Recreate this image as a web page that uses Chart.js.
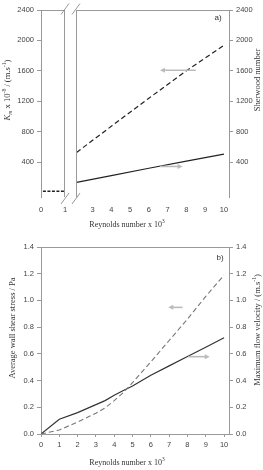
<!DOCTYPE html>
<html>
<head>
<meta charset="utf-8">
<script src="https://cdn.jsdelivr.net/npm/chart.js@4.4.1/dist/chart.umd.min.js"></script>
<style>
  html, body { margin: 0; padding: 0; background: #fff; }
  #wrap { position: relative; width: 263px; height: 470px; }
  canvas { position: absolute; }
</style>
</head>
<body>
<div id="wrap">
  <canvas id="topLeft" width="72" height="230" style="left:0;top:0;width:72px;height:230px"></canvas>
  <canvas id="topRight" width="263" height="230" style="left:0;top:0;width:263px;height:230px"></canvas>
  <canvas id="bottom" width="263" height="240" style="left:0;top:230px;width:263px;height:240px"></canvas>
</div>
<script>
// ---- data ----
// panel a), laminar part (Re x 10^3 below the break)
var lamRe = [0.08, 0.96];
var lamKm = [15, 15];
// panel a), turbulent part
var turbRe = [2.15, 4, 6, 8, 10];
var turbKm = [526, 870, 1240, 1600, 1935];
var turbSh = [133, 222, 318, 412, 505];
var topYTicks = [400, 800, 1200, 1600, 2000, 2400];
var topXTicksLeft = [0, 1];
var topXTicksRight = [3, 4, 5, 6, 7, 8, 9, 10];

// panel b)
var botRe = [0, 1, 2, 3, 3.5, 4, 4.5, 5, 6, 7, 8, 9, 10];
var shearStress = [0, 0.03, 0.09, 0.155, 0.195, 0.25, 0.31, 0.385, 0.54, 0.70, 0.86, 1.03, 1.19];
var maxVelocity = [0, 0.11, 0.16, 0.22, 0.25, 0.29, 0.325, 0.36, 0.44, 0.51, 0.58, 0.65, 0.72];
var botYTicks = [0, 0.2, 0.4, 0.6, 0.8, 1.0, 1.2, 1.4];
var botXTicks = [0, 1, 2, 3, 4, 5, 6, 7, 8, 9, 10];

// arrows pointing at the axis each curve belongs to: [fromX, fromY, toX, toY]
var topArrowKm = [8.5, 1608, 6.59, 1608];
var topArrowSh = [6.59, 342, 7.8, 342];
var botArrowShear = [7.73, 0.948, 6.95, 0.948];
var botArrowVel = [8.04, 0.579, 9.22, 0.579];

Chart.defaults.font.family = '"Liberation Sans", Arial, sans-serif';
Chart.defaults.font.size = 7.5;
Chart.defaults.color = '#444';

var AXIS = '#999';

function fixTicks(list) {
  return function (s) { s.ticks = list.map(function (v) { return { value: v }; }); };
}

// rich text: segments {t, sup, sub, it}
function drawRich(ctx, segs, cx, cy, rot, size) {
  ctx.save();
  ctx.translate(cx, cy);
  if (rot) ctx.rotate(-Math.PI / 2);
  var parts = segs.map(function (s) {
    var fs = (s.sup || s.sub) ? size * 0.68 : size;
    var font = (s.it ? 'italic ' : '') + fs + 'px "Liberation Serif", "Times New Roman", serif';
    ctx.font = font;
    return { s: s, font: font, w: ctx.measureText(s.t).width };
  });
  var total = parts.reduce(function (a, p) { return a + p.w; }, 0);
  var x = -total / 2;
  ctx.fillStyle = '#333';
  ctx.textBaseline = 'alphabetic';
  parts.forEach(function (p) {
    ctx.font = p.font;
    var dy = p.s.sup ? -size * 0.42 : (p.s.sub ? size * 0.28 : 0);
    ctx.fillText(p.s.t, x, size * 0.35 + dy);
    x += p.w;
  });
  ctx.restore();
}

var decor = {
  id: 'decor',
  afterDraw: function (chart, args, o) {
    var ctx = chart.ctx, a = chart.chartArea;
    ctx.save();
    ctx.strokeStyle = AXIS;
    ctx.lineWidth = 1;
    (o.edges || []).forEach(function (e) {
      ctx.beginPath();
      if (e === 'top') { ctx.moveTo(a.left, Math.round(a.top) + 0.5); ctx.lineTo(a.right, Math.round(a.top) + 0.5); }
      if (e === 'left') { ctx.moveTo(Math.round(a.left) + 0.5, a.top); ctx.lineTo(Math.round(a.left) + 0.5, a.bottom); }
      if (e === 'right') { ctx.moveTo(Math.round(a.right) - 0.5, a.top); ctx.lineTo(Math.round(a.right) - 0.5, a.bottom); }
      ctx.stroke();
    });
    // axis break marks
    (o.breaks || []).forEach(function (side) {
      var x = side === 'left' ? a.left : a.right;
      [a.top - 1, a.bottom + 1.5].forEach(function (y) {
        ctx.beginPath();
        ctx.moveTo(x - 4, y + 5.5);
        ctx.lineTo(x + 4, y - 5.5);
        ctx.stroke();
      });
    });
    // arrows
    ctx.strokeStyle = '#bbb';
    ctx.fillStyle = '#bbb';
    ctx.lineWidth = 1.6;
    (o.arrows || []).forEach(function (ar) {
      var ys = chart.scales[ar.axis];
      var x0 = chart.scales.x.getPixelForValue(ar.p[0]), y0 = ys.getPixelForValue(ar.p[1]);
      var x1 = chart.scales.x.getPixelForValue(ar.p[2]), y1 = ys.getPixelForValue(ar.p[3]);
      var dir = x1 > x0 ? 1 : -1;
      ctx.beginPath();
      ctx.moveTo(x0, y0); ctx.lineTo(x1 - dir * 4, y1); ctx.stroke();
      ctx.beginPath();
      ctx.moveTo(x1, y1); ctx.lineTo(x1 - dir * 5, y1 - 2.5); ctx.lineTo(x1 - dir * 5, y1 + 2.5);
      ctx.closePath(); ctx.fill();
    });
    // titles and panel letters
    (o.texts || []).forEach(function (t) {
      if (t.sans) {
        ctx.font = t.size + 'px "Liberation Sans", Arial, sans-serif';
        ctx.fillStyle = '#333';
        ctx.textAlign = 'center';
        ctx.textBaseline = 'middle';
        ctx.fillText(t.segs, t.x, t.y);
      } else {
        drawRich(ctx, t.segs, t.x, t.y, t.rot, t.size);
      }
    });
    ctx.restore();
  }
};

function yAxis(pos, min, max, ticks, width, fmt) {
  return {
    type: 'linear', position: pos, min: min, max: max,
    afterBuildTicks: fixTicks(ticks),
    afterFit: function (s) { s.width = width; },
    grid: { drawOnChartArea: false, drawTicks: true, tickLength: 4, color: AXIS },
    border: { display: true, color: AXIS },
    ticks: { padding: 3, callback: fmt || function (v) { return v; } }
  };
}

// ---- panel a), left of the break ----
new Chart(document.getElementById('topLeft'), {
  type: 'line',
  data: {
    datasets: [{
      data: lamRe.map(function (r, i) { return { x: r, y: lamKm[i] }; }),
      borderColor: '#222', borderWidth: 1.6, borderDash: [3, 1.5], pointRadius: 0
    }]
  },
  options: {
    responsive: false, animation: false, events: [],
    layout: { padding: { top: 10, right: 7, left: 0, bottom: 0 } },
    scales: {
      x: {
        type: 'linear', min: 0, max: 1,
        afterBuildTicks: fixTicks(topXTicksLeft),
        afterFit: function (s) { s.height = 33; },
        grid: { display: false }, border: { display: false },
        ticks: { padding: 0 }
      },
      y: yAxis('left', -60, 2400, topYTicks, 41)
    },
    plugins: {
      legend: { display: false }, tooltip: { enabled: false },
      decor: {
        edges: ['top', 'right'], breaks: ['right'],
        texts: [{ segs: [{ t: 'K', it: true }, { t: 'm', sub: true, it: true }, { t: ' x 10' }, { t: '-8', sup: true }, { t: ' / (m.s' }, { t: '-1', sup: true }, { t: ')' }], x: 7, y: 90, rot: true, size: 8.5 }]
      }
    }
  },
  plugins: [decor]
});

// ---- panel a), right of the break ----
new Chart(document.getElementById('topRight'), {
  type: 'line',
  data: {
    datasets: [{
      data: turbRe.map(function (r, i) { return { x: r, y: turbKm[i] }; }),
      borderColor: '#222', borderWidth: 1.2, borderDash: [5, 3], pointRadius: 0, yAxisID: 'y'
    }, {
      data: turbRe.map(function (r, i) { return { x: r, y: turbSh[i] }; }),
      borderColor: '#222', borderWidth: 1.2, pointRadius: 0, yAxisID: 'y'
    }]
  },
  options: {
    responsive: false, animation: false, events: [],
    layout: { padding: { top: 10, right: 0, left: 76, bottom: 0 } },
    scales: {
      x: {
        type: 'linear', min: 2.12, max: 10.27,
        afterBuildTicks: fixTicks(topXTicksRight),
        afterFit: function (s) { s.height = 33; },
        grid: { display: false }, border: { display: false },
        ticks: { padding: 0 }
      },
      y: yAxis('right', -60, 2400, topYTicks, 34)
    },
    plugins: {
      legend: { display: false }, tooltip: { enabled: false },
      decor: {
        edges: ['top', 'left'], breaks: ['left'],
        arrows: [{ p: topArrowKm, axis: 'y' }, { p: topArrowSh, axis: 'y' }],
        texts: [
          { segs: [{ t: 'Reynolds number x 10' }, { t: '3', sup: true }], x: 127, y: 224, size: 8 },
          { segs: [{ t: 'Sherwood number' }], x: 257, y: 80, rot: true, size: 8.5 },
          { segs: 'a)', sans: true, x: 218, y: 18, size: 8 }
        ]
      }
    }
  },
  plugins: [decor]
});

// ---- panel b) ----
var fmt1 = function (v) { return v.toFixed(1); };
new Chart(document.getElementById('bottom'), {
  type: 'line',
  data: {
    datasets: [{
      data: botRe.map(function (r, i) { return { x: r, y: shearStress[i] }; }),
      borderColor: '#777', borderWidth: 1.1, borderDash: [5, 3], pointRadius: 0, yAxisID: 'y'
    }, {
      data: botRe.map(function (r, i) { return { x: r, y: maxVelocity[i] }; }),
      borderColor: '#333', borderWidth: 1.2, pointRadius: 0, yAxisID: 'y2'
    }]
  },
  options: {
    responsive: false, animation: false, events: [],
    layout: { padding: { top: 17, right: 0, left: 0, bottom: 0 } },
    scales: {
      x: {
        type: 'linear', min: 0, max: 10.27,
        afterBuildTicks: fixTicks(botXTicks),
        afterFit: function (s) { s.height = 36; },
        grid: { drawOnChartArea: false, drawTicks: true, tickLength: 3, color: AXIS },
        border: { display: true, color: AXIS },
        ticks: { padding: 3 }
      },
      y: yAxis('left', 0, 1.4, botYTicks, 41, fmt1),
      y2: yAxis('right', 0, 1.4, botYTicks, 34, fmt1)
    },
    plugins: {
      legend: { display: false }, tooltip: { enabled: false },
      decor: {
        edges: ['top'],
        arrows: [{ p: botArrowShear, axis: 'y' }, { p: botArrowVel, axis: 'y2' }],
        texts: [
          { segs: [{ t: 'Reynolds number x 10' }, { t: '3', sup: true }], x: 127, y: 232, size: 8 },
          { segs: [{ t: 'Average wall shear stress / Pa' }], x: 12, y: 98, rot: true, size: 8.5 },
          { segs: [{ t: 'Maximum flow velocity / (m.s' }, { t: '-1', sup: true }, { t: ')' }], x: 257, y: 100, rot: true, size: 8.5 },
          { segs: 'b)', sans: true, x: 220, y: 28, size: 8 }
        ]
      }
    }
  },
  plugins: [decor]
});
</script>
</body>
</html>
